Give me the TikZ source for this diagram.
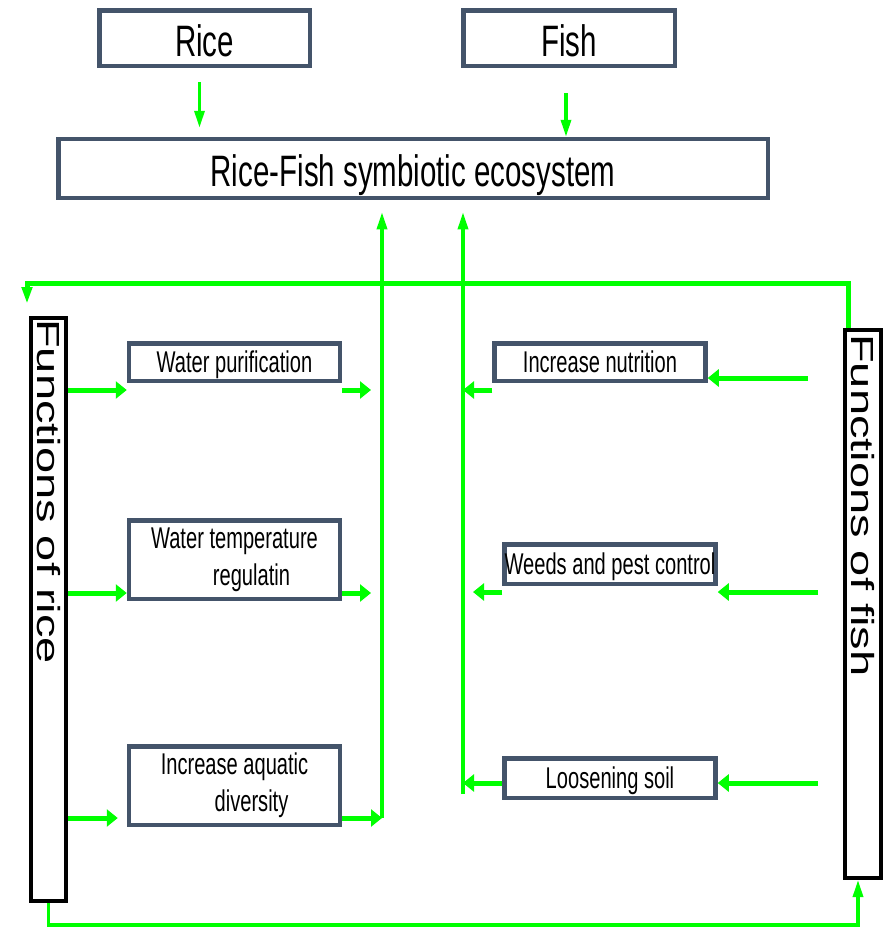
\documentclass[tikz,border=0pt]{standalone}
\usepackage{graphicx}
\usepackage{fontspec}
\newfontfamily\narrowsans[FakeStretch=0.67]{Liberation Sans}
\newfontfamily\plainsans{Liberation Sans}
\usetikzlibrary{arrows.meta, positioning}
\definecolor{slateline}{RGB}{68,84,106}
\definecolor{flowgreen}{RGB}{0,255,0}

\begin{document}
\begin{tikzpicture}[
    x=1pt, y=1pt,
    mainbox/.style={rectangle, draw=slateline, line width=4.5pt, fill=white, inner sep=0pt, minimum width=210.5pt, font=\narrowsans\fontsize{44}{50}\selectfont, text height=36pt, text depth=0pt},
    funcbox/.style={rectangle, draw=slateline, line width=4.5pt, fill=white, inner sep=0pt, minimum width=211pt, align=center, font=\narrowsans\fontsize{30}{37}\selectfont},
    oneline/.style={text height=21pt, text depth=0pt},
    sidebox/.style={rectangle, draw=black, line width=4pt, inner sep=0pt, minimum width=35pt},
    sidetext/.style={inner sep=0pt, anchor=north, font=\plainsans\fontsize{47}{50}\selectfont},
    harrow/.style={draw=flowgreen, line width=5pt, -{Triangle[length=11pt, width=17pt]}},
    varrow/.style={draw=flowgreen, line width=3.3pt, -{Triangle[length=17pt, width=10pt]}},
]
\useasboundingbox (0,0) rectangle (892,-927);

% Top boxes
\node[mainbox, minimum height=55.5pt] (rice) at (204.5,-38) {Rice};
\node[mainbox, minimum height=55.5pt, minimum width=211.5pt, right=149pt of rice] (fish) {Fish};
\node[mainbox, minimum height=59pt, minimum width=709.5pt] (eco) at (413,-168.5) {Rice-Fish symbiotic ecosystem};

% Side boxes
\node[sidebox, minimum height=583pt] (ricefn) at (48.5,-609.5) {};
\node[sidebox, minimum width=36pt, minimum height=548pt] (fishfn) at (863,-604) {};
\node[sidetext] (ricelabel) at ([yshift=-3pt]ricefn.north) {\rotatebox{-90}{\scalebox{1}[0.68]{Functions of rice}}};
\node[sidetext] (fishlabel) at ([yshift=-6pt]fishfn.north) {\rotatebox{-90}{\scalebox{1}[0.68]{Functions of fish}}};

% Functions of rice
\node[funcbox, oneline, minimum height=37.5pt] (purify) at (234.5,-362) {Water purification};
\node[funcbox, minimum height=78.5pt, below=135pt of purify] (temp) {Water temperature\\\hspace*{34pt}regulatin};
\node[funcbox, minimum height=78.5pt, below=143pt of temp] (diverse) {Increase aquatic\\\hspace*{34pt}diversity};

% Functions of fish
\node[funcbox, oneline, minimum height=37.5pt] (nutri) at (600,-362) {Increase nutrition};
\node[funcbox, oneline, minimum height=39.5pt, below=159pt of nutri, xshift=10pt] (weeds) {Weeds and pest control};
\node[funcbox, oneline, minimum height=39.5pt, below=170pt of weeds] (soil) {Loosening soil};

% Bus lines and rows
\coordinate (ricebus) at (382,-818);
\coordinate (fishbus) at (463,-794);
\coordinate (topbend) at (27,-283);
\coordinate (botbend) at (858,-925);
\coordinate (rrow1) at ([yshift=-7pt]purify.south);
\coordinate (rrow2) at ([yshift=8pt]temp.south);
\coordinate (rrow3) at ([yshift=9pt]diverse.south);
\coordinate (frow1in) at ([yshift=5pt]nutri.south);
\coordinate (frow1out) at ([yshift=-7pt]nutri.south);
\coordinate (frow2) at ([yshift=-6pt]weeds.south);
\coordinate (frow3) at ([yshift=-5pt]soil.center);

% Rice and Fish into the ecosystem
\draw[varrow, shorten <=14pt, shorten >=9pt] ([xshift=-5pt]rice.south) -- ([xshift=-5pt]rice.south |- eco.north);
\draw[varrow, shorten <=25pt] ([xshift=-3pt]fish.south) -- ([xshift=-3pt]fish.south |- eco.north);

% Back into the ecosystem
\draw[varrow, shorten >=12pt] (ricebus) -- (ricebus |- eco.south);
\draw[varrow, shorten >=12pt] (fishbus) -- (fishbus |- eco.south);

% Rice side arrows
\draw[harrow] (rrow1 -| ricefn.east) -- (rrow1 -| purify.west);
\draw[harrow, shorten >=11pt] (rrow1 -| purify.east) -- (rrow1 -| ricebus);
\draw[harrow] (rrow2 -| ricefn.east) -- (rrow2 -| temp.west);
\draw[harrow, shorten >=11pt] (rrow2 -| temp.east) -- (rrow2 -| ricebus);
\draw[harrow, shorten >=9pt] (rrow3 -| ricefn.east) -- (rrow3 -| diverse.west);
\draw[harrow] (rrow3 -| diverse.east) -- (ricebus);

% Fish side arrows
\draw[harrow, shorten <=35pt] (frow1in -| fishfn.west) -- (frow1in -| nutri.east);
\draw[harrow] (frow1out -| nutri.west) -- (frow1out -| fishbus);
\draw[harrow, shorten <=25pt] (frow2 -| fishfn.west) -- (frow2 -| weeds.east);
\draw[harrow, shorten >=10pt] (frow2 -| weeds.west) -- (frow2 -| fishbus);
\draw[harrow, shorten <=25pt] (frow3 -| fishfn.west) -- (frow3 -| soil.east);
\draw[harrow] (frow3 -| soil.west) -- (frow3 -| fishbus);

% Loops between the two sides
\draw[varrow, line width=5pt, shorten >=12pt] ([xshift=-15pt]fishfn.north) |- (topbend) -- (topbend |- ricefn.north);
\draw[varrow] (ricefn.south) |- (botbend) -- (botbend |- fishfn.south);

\end{tikzpicture}
\end{document}
